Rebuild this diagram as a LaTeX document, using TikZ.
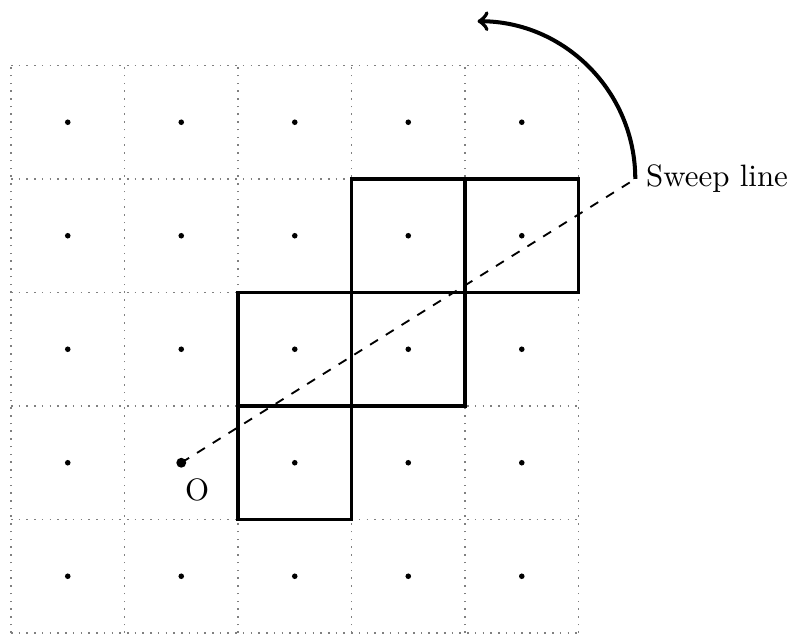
\documentclass[tikz,border=0pt]{standalone}
\begin{document}
\begin{tikzpicture}[x=1.29cm,y=1.29cm,
  gridline/.style={gray,dotted,line width=0.5pt},
  cellbox/.style={line width=1pt},
  cdot/.style={circle,fill=black,inner sep=0pt,minimum size=1.8pt},
  sweep/.style={dashed,line width=0.6pt},
  rot/.style={->,line width=1.3pt}]
\useasboundingbox (-0.097,-0.035) rectangle (6.872,5.577);
\foreach \k in {0,...,5}{
  \draw[gridline] (\k,0) -- (\k,5);
  \draw[gridline] (0,\k) -- (5,\k);
}
\foreach \i in {0,...,4}{
  \foreach \j in {0,...,4}{
    \node[cdot] (d\i\j) at (\i+0.5,\j+0.5) {};
  }
}
\foreach \c/\r in {2/1,2/2,3/2,3/3,4/3}{
  \draw[cellbox] (\c,\r) rectangle ++(1,1);
}
\node[circle,fill=black,inner sep=0pt,minimum size=3.2pt] (O) at (1.5,1.5) {};
\node (Olab) at (1.64,1.26) {O};
\coordinate (E) at (5.5,4);
\draw[sweep] (O.center) -- (E);
\node[anchor=west] (lab) at (E) {Sweep line};
\draw[rot] (E) arc (0:90:1.39);
\end{tikzpicture}
\end{document}
